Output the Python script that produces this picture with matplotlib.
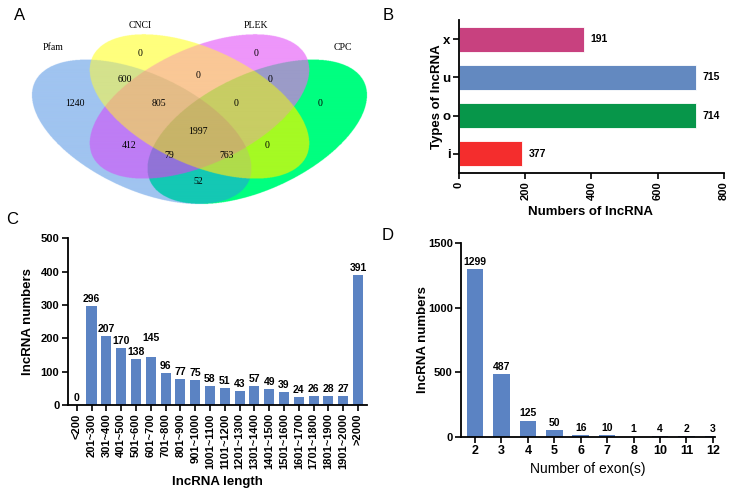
import numpy as np
import matplotlib
matplotlib.use('Agg')
import matplotlib.pyplot as plt

# ---------------- data ----------------
venn_sets = ['Pfam', 'CNCI', 'PLEK', 'CPC']
# region membership codes (Pfam, CNCI, PLEK, CPC) and counts
venn_regions = ['0100', '0010', '1100', '0110', '0011', '1000', '1110',
                '0111', '0001', '1111', '1010', '1011', '1101', '0101', '1001']
venn_counts = [0, 0, 600, 0, 0, 1240, 805, 0, 0, 1997, 412, 79, 763, 0, 52]

types = ['i', 'o', 'u', 'x']
type_bar_values = [191, 714, 715, 377]
type_labels = ['377', '714', '715', '191']
type_colors = ['#f42d2d', '#07964a', '#6389c0', '#c8417f']

length_bins = ['<200', '201~300', '301~400', '401~500', '501~600', '601~700',
               '701~800', '801~900', '901~1000', '1001~1100', '1101~1200',
               '1201~1300', '1301~1400', '1401~1500', '1501~1600', '1601~1700',
               '1701~1800', '1801~1900', '1901~2000', '>2000']
length_counts = [0, 296, 207, 170, 138, 145, 96, 77, 75, 58, 51, 43, 57, 49,
                 39, 24, 26, 28, 27, 391]

exon_numbers = ['2', '3', '4', '5', '6', '7', '8', '10', '11', '12']
exon_counts = [1299, 487, 125, 50, 16, 10, 1, 4, 2, 3]

# ---------------- figure ----------------
W, H = 733, 495
fig = plt.figure(figsize=(W / 100, H / 100), dpi=100)
SANS = 'Liberation Sans'
SERIF = 'Liberation Serif'
BAR = '#5b83c3'


def rect(l, t, r, b):
    return [l / W, 1 - b / H, (r - l) / W, (b - t) / H]


def ftext(x, y, s, **kw):
    fig.text(x / W, 1 - y / H, s, **kw)


def style_axes(ax):
    for s in ['top', 'right']:
        ax.spines[s].set_visible(False)
    for s in ['left', 'bottom']:
        ax.spines[s].set_linewidth(1.3)
    ax.tick_params(direction='out', length=4, width=1.2, pad=2)
    for lab in ax.get_xticklabels() + ax.get_yticklabels():
        lab.set_fontfamily(SANS)
        lab.set_fontweight('bold')


# ---------------- Panel A: Venn ----------------
axA = fig.add_axes(rect(0, 0, 400, 228))
axA.set_xlim(0, 400)
axA.set_ylim(228, 0)
axA.axis('off')

ss = 3
xs = (np.arange(400 * ss) + 0.5) / ss
ys = (np.arange(228 * ss) + 0.5) / ss
PX, PY = np.meshgrid(xs, ys)
U = (PX - 7) / 385.0
V = 0.185 + (204 - PY) / 252.0
ell = [(0.35, 0.47, -45), (0.50, 0.57, -45), (0.50, 0.57, 45), (0.65, 0.47, 45)]
code = np.zeros(U.shape, dtype=int)
for k, (cx, cy, ang) in enumerate(ell):
    t = np.deg2rad(ang)
    dx, dy = U - cx, V - cy
    a1 = (dx * np.cos(t) + dy * np.sin(t)) / 0.35
    b1 = (-dx * np.sin(t) + dy * np.cos(t)) / 0.20
    code += ((a1 ** 2 + b1 ** 2) <= 1).astype(int) << k
palette = np.array([
    (255, 255, 255),  # none
    (160, 196, 240),  # Pfam
    (255, 255, 125),  # CNCI
    (212, 226, 140),  # Pfam CNCI
    (238, 150, 250),  # PLEK
    (190, 125, 245),  # Pfam PLEK
    (250, 200, 150),  # CNCI PLEK
    (228, 188, 135),  # Pfam CNCI PLEK
    (0, 255, 128),    # CPC
    (20, 200, 180),   # Pfam CPC
    (165, 250, 35),   # CNCI CPC
    (175, 220, 75),   # Pfam CNCI CPC
    (155, 155, 200),  # PLEK CPC
    (145, 115, 215),  # Pfam PLEK CPC
    (200, 205, 100),  # CNCI PLEK CPC
    (200, 180, 105),  # all
]) / 255.0
img = palette[code]
axA.imshow(img, extent=(0, 400, 228, 0), origin='upper',
           interpolation='antialiased', aspect='auto')

venn_pos = {'0100': (140, 53), '0010': (256, 53), '1100': (125, 80),
            '0110': (198, 75), '0011': (270, 80), '1000': (75, 103),
            '1110': (159, 103), '0111': (236, 103), '0001': (320, 103),
            '1111': (198, 131), '1010': (129, 145), '1011': (169, 155),
            '1101': (227, 155), '0101': (267, 145), '1001': (198, 182)}
for reg, cnt in zip(venn_regions, venn_counts):
    x, y = venn_pos[reg]
    axA.text(x, y, str(cnt), ha='center', va='center', fontsize=7,
             family=SERIF)
set_pos = [(53, 48), (140, 26), (256, 26), (343, 48)]
for name, (x, y) in zip(venn_sets, set_pos):
    axA.text(x, y, name, ha='center', va='center', fontsize=7, family=SERIF)

# ---------------- Panel B ----------------
axB = fig.add_axes(rect(459, 20, 724, 173))
yb = np.arange(len(types))
axB.barh(yb, type_bar_values, height=0.65, color=type_colors,
         edgecolor='white', linewidth=0.6)
axB.set_xlim(0, 800)
axB.set_ylim(-0.5, 3.5)
axB.set_yticks(yb)
axB.set_yticklabels(types, fontsize=9.5)
axB.set_xticks([0, 200, 400, 600, 800])
axB.set_xticklabels(['0', '200', '400', '600', '800'], rotation=90, fontsize=8)
style_axes(axB)
for yy, v, lab in zip(yb, type_bar_values, type_labels):
    axB.annotate(lab, (v, yy), xytext=(5, 0), textcoords='offset points',
                 ha='left', va='center', fontsize=7.5, fontweight='bold',
                 family=SANS)
ftext(437, 97, 'Types of lncRNA', rotation=90, ha='center', va='center',
      fontsize=9.5, fontweight='bold', family=SANS)
ftext(591, 212, 'Numbers of lncRNA', ha='center', va='center',
      fontsize=9.5, fontweight='bold', family=SANS)

# ---------------- Panel C ----------------
axC = fig.add_axes(rect(67.7, 238.3, 367, 405))
xc = np.arange(len(length_bins))
axC.bar(xc, length_counts, width=0.68, color=BAR)
axC.set_xlim(-0.61, len(length_bins) - 1 + 0.61)
axC.set_ylim(0, 500)
axC.set_yticks([0, 100, 200, 300, 400, 500])
axC.set_yticklabels(['0', '100', '200', '300', '400', '500'], fontsize=8)
axC.set_xticks(xc)
axC.set_xticklabels(length_bins, rotation=90, fontsize=8)
style_axes(axC)
label_lift = {5: 8}  # raise a crowded label (points), as in the reference
for i, (xx, v) in enumerate(zip(xc, length_counts)):
    axC.annotate(str(v), (xx, v), xytext=(0, 1.5 + label_lift.get(i, 0)),
                 textcoords='offset points', ha='center', va='bottom',
                 fontsize=7.5, fontweight='bold', family=SANS)
ftext(28, 322, 'lncRNA numbers', rotation=90, ha='center', va='center',
      fontsize=9.5, fontweight='bold', family=SANS)
ftext(217, 482, 'lncRNA length', ha='center', va='center',
      fontsize=9.5, fontweight='bold', family=SANS)

# ---------------- Panel D ----------------
axD = fig.add_axes(rect(461, 243.2, 715, 436.7))
xd = np.arange(len(exon_numbers))
axD.bar(xd, exon_counts, width=0.63, color=BAR)
axD.set_xlim(-0.53, len(exon_numbers) - 1 + 0.08)
axD.set_ylim(0, 1500)
axD.set_yticks([0, 500, 1000, 1500])
axD.set_yticklabels(['0', '500', '1000', '1500'], fontsize=8)
axD.set_xticks(xd)
axD.set_xticklabels(exon_numbers, fontsize=9)
style_axes(axD)
for xx, v in zip(xd, exon_counts):
    axD.annotate(str(v), (xx, v), xytext=(0, 1.5), textcoords='offset points',
                 ha='center', va='bottom', fontsize=7.5, fontweight='bold',
                 family=SANS)
ftext(423, 340, 'lncRNA numbers', rotation=90, ha='center', va='center',
      fontsize=9.5, fontweight='bold', family=SANS)
ftext(588, 469, 'Number of exon(s)', ha='center', va='center',
      fontsize=10, fontweight='normal', family=SANS)

# ---------------- panel letters ----------------
for lab, (x, y) in zip(['A', 'B', 'C', 'D'],
                       [(20, 15), (388, 15), (12, 220), (388, 236)]):
    ftext(x, y, lab, ha='center', va='center', fontsize=12, family=SANS)

fig.savefig('out.png', dpi=100)
